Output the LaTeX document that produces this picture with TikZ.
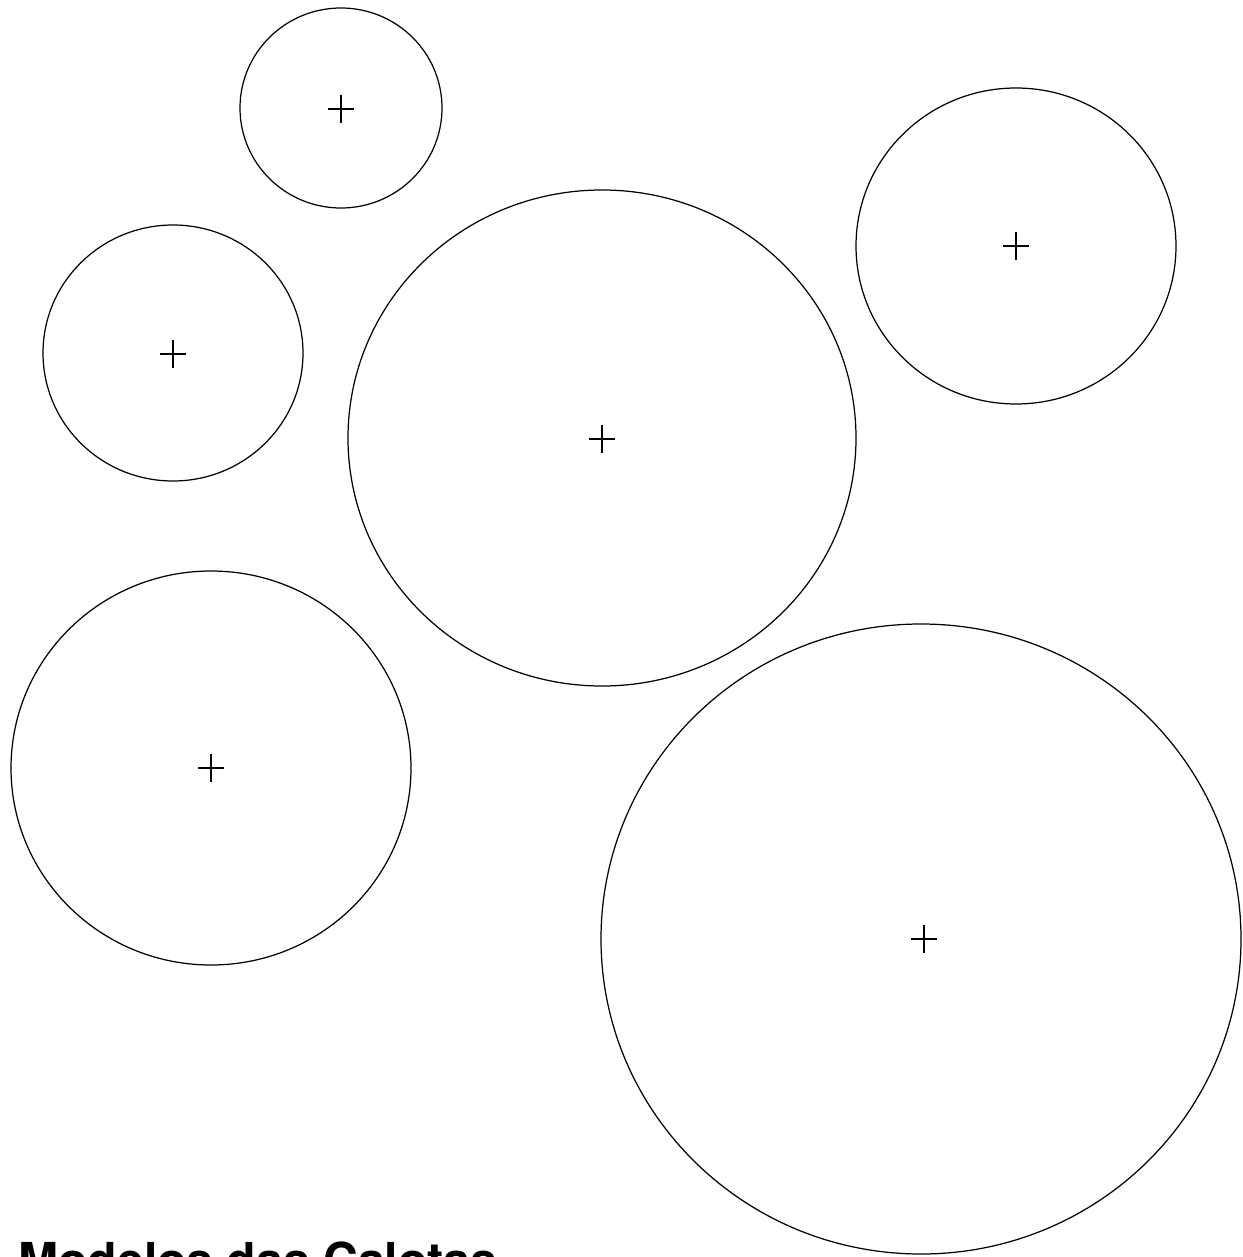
\documentclass[tikz,border=0pt]{standalone}
\usepackage{fontspec}
\setmainfont{TeX Gyre Heros}
\begin{document}
\begin{tikzpicture}[x=0.02cm,y=-0.02cm]
\tikzset{ring/.style={draw=black,line width=0.7pt},
         crossmark/.style={draw=black,line width=0.8pt}}
\useasboundingbox (0,0) rectangle (1242,1257);
\clip (0,0) rectangle (1242,1257);
\fill[white] (0,0) rectangle (1242,1257);
% circles
\draw[ring] (341,108) ellipse [x radius=101, y radius=100];
\draw[ring] (173,353) ellipse [x radius=130, y radius=128];
\draw[ring] (602,438) ellipse [x radius=254, y radius=248];
\draw[ring] (1016,246) ellipse [x radius=160, y radius=158];
\draw[ring] (211,768) ellipse [x radius=200, y radius=197];
\draw[ring] (921,939) ellipse [x radius=320, y radius=315];
% centre marks
\foreach \cx/\cy in {341/109, 173/354, 602/439, 1016/246, 211/768, 924/939}{
  \draw[crossmark] (\cx-13,\cy) -- (\cx+13,\cy);
  \draw[crossmark] (\cx,\cy-14) -- (\cx,\cy+14);
}
\node[anchor=base west,inner sep=0pt,font=\fontsize{27.4}{30}\selectfont\bfseries] (title) at (18,1277) {Modelos das Calotas};
\end{tikzpicture}
\end{document}
